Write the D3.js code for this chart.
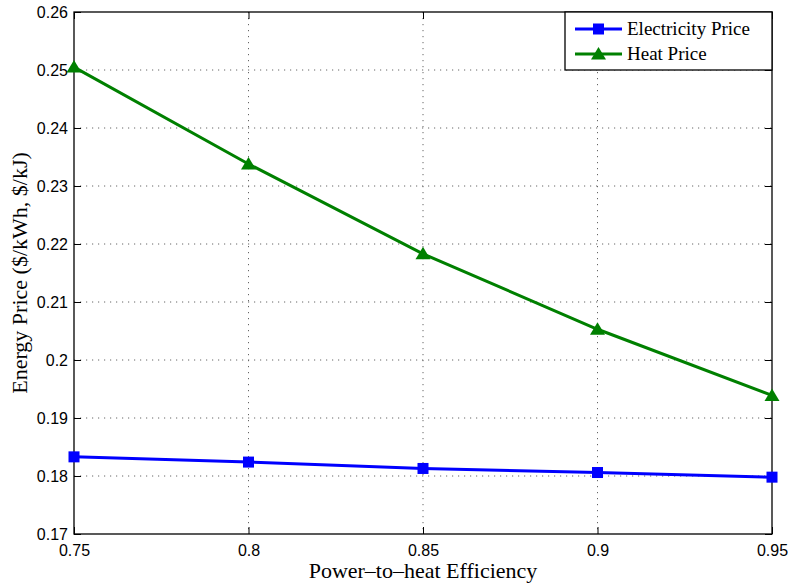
<!DOCTYPE html>
<html>
<head>
<meta charset="utf-8">
<script src="https://cdn.jsdelivr.net/npm/d3@7"></script>
<style>
  html, body { margin: 0; padding: 0; background: #fff; }
  svg { display: block; }
</style>
</head>
<body>
<script>
// Efficiency levels on the x axis
const efficiency = [0.75, 0.80, 0.85, 0.90, 0.95];
// Price series
const electricityPrice = [0.1833, 0.1824, 0.1813, 0.1806, 0.1798];
const heatPrice = [0.2505, 0.2338, 0.2183, 0.2053, 0.1939];
// Tick values
const xTicks = [0.75, 0.8, 0.85, 0.9, 0.95];
const yTicks = [0.17, 0.18, 0.19, 0.2, 0.21, 0.22, 0.23, 0.24, 0.25, 0.26];
const seriesNames = ["Electricity Price", "Heat Price"];

const W = 788, H = 583;
const margin = { left: 74, right: 16, top: 12, bottom: 49 };
const iw = W - margin.left - margin.right;
const ih = H - margin.top - margin.bottom;

const svg = d3.select("body").append("svg").attr("width", W).attr("height", H);
const g = svg.append("g").attr("transform", `translate(${margin.left},${margin.top})`);

const x = d3.scaleLinear().domain([0.75, 0.95]).range([0, iw]);
const y = d3.scaleLinear().domain([0.17, 0.26]).range([ih, 0]);

// dotted grid
const grid = g.append("g").attr("stroke", "#666").attr("stroke-width", 1).attr("stroke-dasharray", "1.2,4.8");
grid.selectAll("line.gx").data(xTicks.slice(1, -1)).join("line")
  .attr("x1", d => x(d)).attr("x2", d => x(d)).attr("y1", 0).attr("y2", ih);
grid.selectAll("line.gy").data(yTicks.slice(1, -1)).join("line")
  .attr("y1", d => y(d)).attr("y2", d => y(d)).attr("x1", 0).attr("x2", iw);

// axes with inward ticks
const tickFont = "'Liberation Sans', Arial, sans-serif";
const xAxis = g.append("g").attr("transform", `translate(0,${ih})`)
  .call(d3.axisBottom(x).tickValues(xTicks).tickSizeInner(-7).tickSizeOuter(0).tickPadding(11)
    .tickFormat(d3.format("")));
const yAxis = g.append("g")
  .call(d3.axisLeft(y).tickValues(yTicks).tickSizeInner(-7).tickSizeOuter(0).tickPadding(6)
    .tickFormat(d => d3.format("")(+d.toFixed(2))));
const xTop = g.append("g")
  .call(d3.axisTop(x).tickValues(xTicks).tickSizeInner(-7).tickSizeOuter(0).tickFormat(""));
const yRight = g.append("g").attr("transform", `translate(${iw},0)`)
  .call(d3.axisRight(y).tickValues(yTicks).tickSizeInner(-7).tickSizeOuter(0).tickFormat(""));

[xAxis, yAxis, xTop, yRight].forEach(a => {
  a.select(".domain").remove();
  a.selectAll(".tick line").attr("stroke", "#000").attr("stroke-width", 1);
  a.selectAll("text").attr("fill", "#000").style("font-family", tickFont).style("font-size", "16px");
});
yAxis.selectAll("text").attr("dy", "0.36em");

// axes box
g.append("rect").attr("x", 0).attr("y", 0).attr("width", iw).attr("height", ih)
  .attr("fill", "none").attr("stroke", "#000").attr("stroke-width", 1.3);

// series
const series = [
  { name: seriesNames[0], values: electricityPrice, color: "#0000ff", marker: "square" },
  { name: seriesNames[1], values: heatPrice, color: "#008000", marker: "triangle" }
];

const line = d3.line().x((d, i) => x(efficiency[i])).y(d => y(d));

function drawMarker(sel, type, color) {
  if (type === "square") {
    sel.append("rect").attr("x", -5.5).attr("y", -5.5).attr("width", 11).attr("height", 11).attr("fill", color);
  } else {
    sel.append("path").attr("d", "M0,-7 L7.5,5.5 L-7.5,5.5 Z").attr("fill", color);
  }
}

series.forEach(s => {
  g.append("path").datum(s.values).attr("d", line)
    .attr("fill", "none").attr("stroke", s.color).attr("stroke-width", 3);
  s.values.forEach((v, i) => {
    const m = g.append("g").attr("transform", `translate(${x(efficiency[i])},${y(v)})`);
    drawMarker(m, s.marker, s.color);
  });
});

// legend
const serif = "'Liberation Serif', 'Times New Roman', serif";
const lg = svg.append("g").attr("transform", "translate(565,12)");
lg.append("rect").attr("width", 207).attr("height", 58).attr("fill", "#fff").attr("stroke", "#000").attr("stroke-width", 1.3);
series.forEach((s, i) => {
  const row = lg.append("g").attr("transform", `translate(0,${17 + i * 25})`);
  row.append("line").attr("x1", 10).attr("x2", 57).attr("stroke", s.color).attr("stroke-width", 3);
  const m = row.append("g").attr("transform", "translate(33.5,0)");
  drawMarker(m, s.marker, s.color);
  row.append("text").attr("x", 62).attr("dy", "0.33em").text(s.name)
    .style("font-family", serif).style("font-size", "19px").attr("fill", "#000");
});

// axis titles
svg.append("text").attr("x", margin.left + iw / 2).attr("y", 578).attr("text-anchor", "middle")
  .style("font-family", serif).style("font-size", "22px").text("Power\u2013to\u2013heat Efficiency");
svg.append("text").attr("transform", `translate(27,${margin.top + ih / 2}) rotate(-90)`)
  .attr("text-anchor", "middle")
  .style("font-family", serif).style("font-size", "22px").text("Energy Price ($/kWh, $/kJ)");
</script>
</body>
</html>
